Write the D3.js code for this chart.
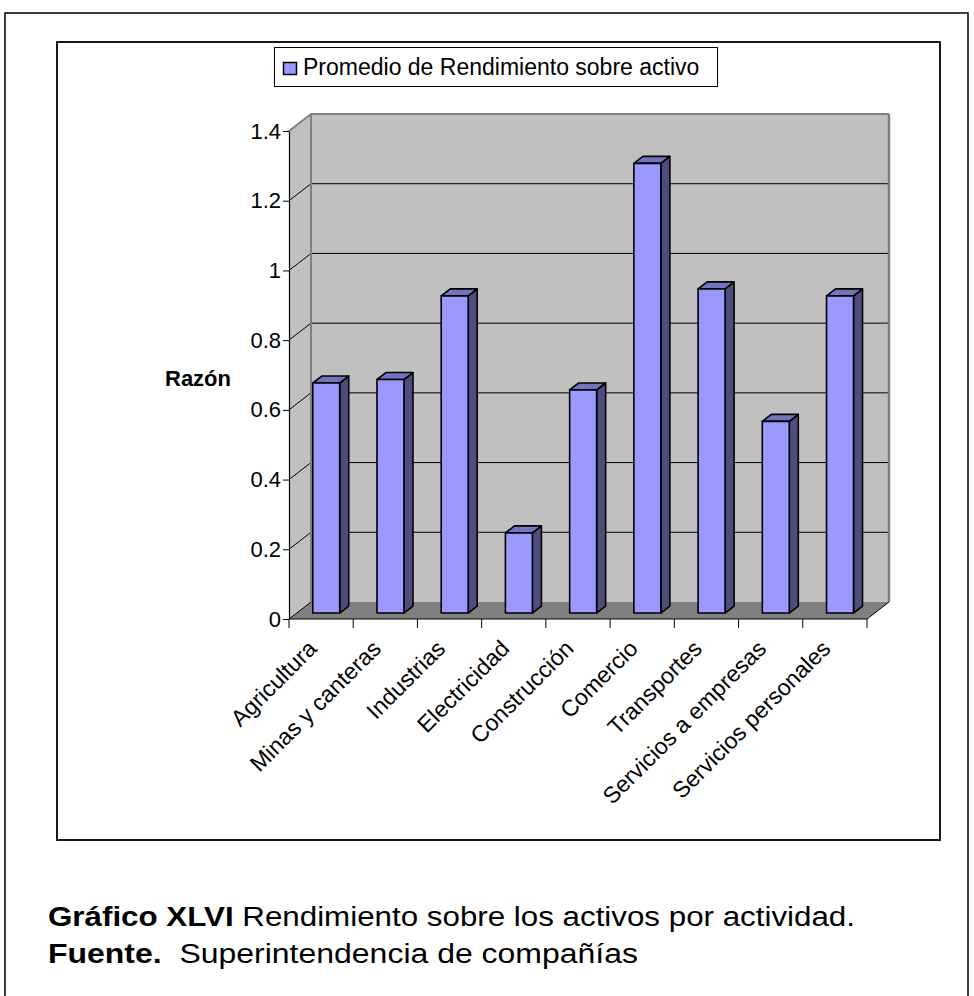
<!DOCTYPE html>
<html>
<head>
<meta charset="utf-8">
<script src="https://cdn.jsdelivr.net/npm/d3@7"></script>
<style>
  html, body { margin: 0; padding: 0; background: #fff; }
  svg { display: block; font-family: "Liberation Sans", Arial, sans-serif; }
</style>
</head>
<body>
<svg id="chart" width="974" height="996"></svg>
<script>
// ---- data ----
const categories = ["Agricultura", "Minas y canteras", "Industrias", "Electricidad", "Construcción",
                    "Comercio", "Transportes", "Servicios a empresas", "Servicios personales"];
const values = [0.66, 0.67, 0.91, 0.23, 0.64, 1.29, 0.93, 0.55, 0.91];
const yTicks = [0, 0.2, 0.4, 0.6, 0.8, 1, 1.2, 1.4];
const yTickLabels = ["0", "0.2", "0.4", "0.6", "0.8", "1", "1.2", "1.4"];
const seriesName = "Promedio de Rendimiento sobre activo";
const yAxisTitle = "Razón";
const captionBold1 = "Gráfico XLVI";
const captionText1 = " Rendimiento sobre los activos por actividad.";
const captionBold2 = "Fuente.";
const captionText2 = "  Superintendencia de compañías";

// ---- layout ----
const svg = d3.select("#chart");
const DX = 22, DY = -17;           // depth offset of the 3D box
const x = d3.scaleBand().domain(categories).range([289, 867]).padding(0);
const y = d3.scaleLinear().domain([0, 1.4]).range([619, 131]);

// outer page border & chart border
svg.append("rect").attr("x", 5).attr("y", 13).attr("width", 963).attr("height", 1000)
  .attr("fill", "none").attr("stroke", "#000").attr("stroke-width", 1.5);
svg.append("rect").attr("x", 57).attr("y", 42).attr("width", 883).attr("height", 798)
  .attr("fill", "#fff").attr("stroke", "#000").attr("stroke-width", 1.8);

// legend
const lg = svg.append("g");
lg.append("rect").attr("x", 274.5).attr("y", 47.5).attr("width", 443).attr("height", 39)
  .attr("fill", "#fff").attr("stroke", "#000").attr("stroke-width", 1);
lg.append("rect").attr("x", 283.5).attr("y", 62.5).attr("width", 13).attr("height", 12)
  .attr("fill", "#9999ff").attr("stroke", "#000").attr("stroke-width", 1.5);
lg.append("text").attr("x", 303).attr("y", 75).attr("font-size", 23).attr("fill", "#000").text(seriesName);

// walls
const y0 = y(0), yTop = y(1.4), xL = 289, xR = 867;
const pts = a => a.map(p => p.join(",")).join(" ");
svg.append("polygon").attr("points", pts([[xL, y0], [xL, yTop], [xL + DX, yTop + DY], [xL + DX, y0 + DY]]))
  .attr("fill", "#c0c0c0");
svg.append("polygon").attr("points", pts([[xL + DX, yTop + DY], [xR + DX, yTop + DY], [xR + DX, y0 + DY], [xL + DX, y0 + DY]]))
  .attr("fill", "#c0c0c0");
svg.append("polygon").attr("points", pts([[xL, y0], [xR, y0], [xR + DX, y0 + DY], [xL + DX, y0 + DY]]))
  .attr("fill", "#808080");

// gridlines
const grid = yTicks.filter(v => v > 0 && v < 1.4);
svg.append("g").selectAll("line").data(grid).join("line")
  .attr("x1", xL + DX).attr("x2", xR + DX)
  .attr("y1", d => y(d) + DY).attr("y2", d => y(d) + DY)
  .attr("stroke", "#000").attr("stroke-width", 1);
svg.append("g").selectAll("line").data(yTicks.filter(v => v < 1.4)).join("line")
  .attr("x1", xL).attr("x2", xL + DX)
  .attr("y1", d => y(d)).attr("y2", d => y(d) + DY)
  .attr("stroke", "#000").attr("stroke-width", 1);

// wall edges
const edge = (a, b, c, w) => svg.append("line").attr("x1", a[0]).attr("y1", a[1]).attr("x2", b[0]).attr("y2", b[1])
  .attr("stroke", c).attr("stroke-width", w || 2);
edge([xL, yTop], [xL + DX, yTop + DY], "#808080");
edge([xL + DX, yTop + DY], [xR + DX, yTop + DY], "#808080");
edge([xL + DX, yTop + DY], [xL + DX, y0 + DY], "#808080");
edge([xR + DX, yTop + DY], [xR + DX, y0 + DY], "#808080", 2.5);
edge([xR, y0], [xR + DX, y0 + DY], "#000", 1);

// bars
const bw = x.bandwidth();
const f1 = 0.35, f2 = 0.76;
const barW = bw * 0.42;
const bars = svg.append("g");
categories.forEach((c, i) => {
  const v = values[i];
  const fx = x(c) + bw * 0.25 + f1 * DX;
  const fy0 = y0 + f1 * DY;
  const top = y(v) + f1 * DY;
  const ddx = (f2 - f1) * DX, ddy = (f2 - f1) * DY;
  const g = bars.append("g").attr("stroke", "#000").attr("stroke-width", 1.6).attr("stroke-linejoin", "round");
  g.append("polygon").attr("points", pts([[fx + barW, fy0], [fx + barW, top], [fx + barW + ddx, top + ddy], [fx + barW + ddx, fy0 + ddy]]))
    .attr("fill", "#4d4d80");
  g.append("polygon").attr("points", pts([[fx, top], [fx + barW, top], [fx + barW + ddx, top + ddy], [fx + ddx, top + ddy]]))
    .attr("fill", "#7373bf");
  g.append("rect").attr("x", fx).attr("y", top).attr("width", barW).attr("height", fy0 - top)
    .attr("fill", "#9999ff");
});

// y axis
const yAxis = d3.axisLeft(y).tickValues(yTicks).tickSize(6).tickSizeOuter(0)
  .tickFormat((d, i) => yTickLabels[i]);
const ya = svg.append("g").attr("transform", `translate(${xL},0)`).call(yAxis);
ya.select(".domain").attr("stroke", "#000").attr("stroke-width", 1.2);
ya.selectAll(".tick line").attr("stroke", "#000");
ya.selectAll(".tick text").attr("font-size", 22).attr("fill", "#000")
  .attr("font-family", "Liberation Sans, Arial, sans-serif").attr("x", -8);

// x axis
const xa = svg.append("g").attr("transform", `translate(0,${y0})`);
xa.append("line").attr("x1", xL).attr("x2", xR).attr("stroke", "#000").attr("stroke-width", 1.2);
const bounds = categories.map(c => x(c)).concat([xR]);
xa.selectAll("line.t").data(bounds).join("line").attr("class", "t")
  .attr("x1", d => d).attr("x2", d => d).attr("y1", 0).attr("y2", 9)
  .attr("stroke", "#000").attr("stroke-width", 1);
xa.selectAll("text").data(categories).join("text")
  .attr("transform", c => `translate(${x(c) + bw / 2 - 3},${31}) rotate(-45)`)
  .attr("text-anchor", "end")
  .attr("font-size", 23).attr("fill", "#000").text(c => c);

// y axis title
svg.append("text").attr("x", 198).attr("y", 386).attr("text-anchor", "middle")
  .attr("font-size", 22).attr("font-weight", "bold").attr("fill", "#000").text(yAxisTitle);

// caption
const cap1 = svg.append("text").attr("x", 48).attr("y", 926).attr("font-size", 27).attr("fill", "#000")
  .attr("textLength", 807).attr("lengthAdjust", "spacingAndGlyphs");
cap1.append("tspan").attr("font-weight", "bold").text(captionBold1);
cap1.append("tspan").text(captionText1);
const cap2 = svg.append("text").attr("x", 48).attr("y", 963).attr("font-size", 27).attr("fill", "#000")
  .style("white-space", "pre").attr("textLength", 590).attr("lengthAdjust", "spacingAndGlyphs");
cap2.append("tspan").attr("font-weight", "bold").text(captionBold2);
cap2.append("tspan").text(captionText2);
</script>
</body>
</html>
